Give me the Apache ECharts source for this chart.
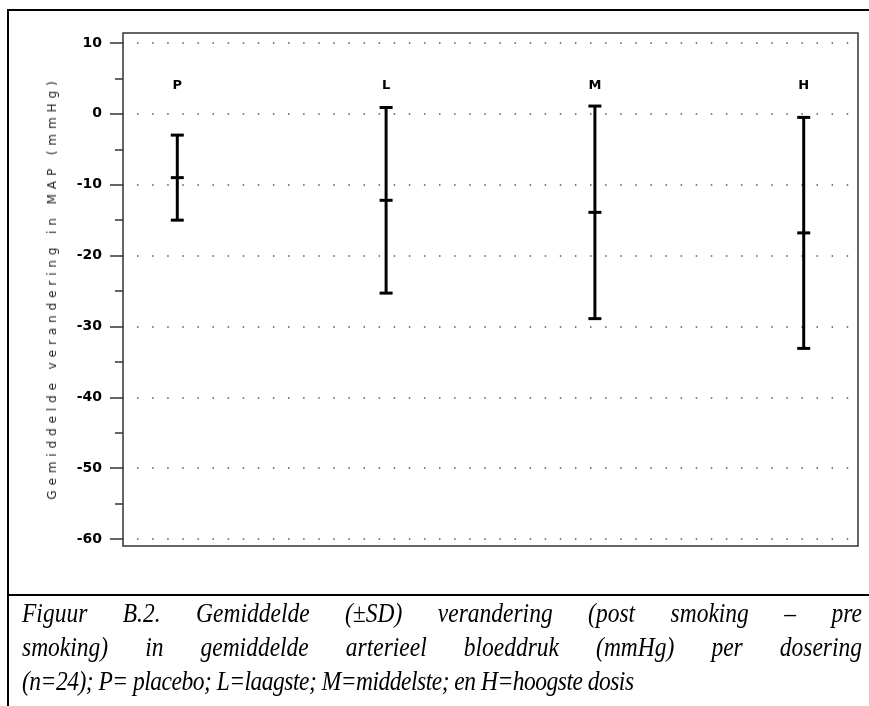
<!DOCTYPE html>
<html>
<head>
<meta charset="utf-8">
<script src="https://cdn.jsdelivr.net/npm/echarts@6/dist/echarts.min.js"></script>
<style>
  html, body { margin: 0; padding: 0; background: #fff; }
  body { width: 869px; height: 706px; position: relative; overflow: hidden; }
  #frame { position: absolute; left: 7px; top: 9px; width: 1000px; height: 1000px; border: 2px solid #000; }
  #sep { position: absolute; left: 7px; top: 594px; width: 900px; height: 2px; background: #000; }
  #chart { position: absolute; left: 0; top: 0; width: 869px; height: 595px; }
  #ytitle {
    position: absolute; left: 52px; top: 288px;
    transform: translate(-50%, -50%) rotate(-90deg);
    white-space: nowrap; font: 12px "DejaVu Sans", sans-serif; letter-spacing: 4.9px; color: #222;
  }
  #caption {
    position: absolute; left: 22px; top: 596px; width: 840px;
    font: italic 23.5px "Liberation Serif", serif; line-height: 29px; color: #000;
    transform: scaleY(1.17); transform-origin: top left;
  }
  #caption div { text-align: justify; text-align-last: justify; white-space: nowrap; }
  #caption div.last { text-align-last: left; letter-spacing: -0.5px; }
</style>
</head>
<body>
<div id="frame"></div>
<div id="chart"></div>
<div id="ytitle">Gemiddelde verandering in MAP (mmHg)</div>
<div id="sep"></div>
<div id="caption">
  <div>Figuur B.2. Gemiddelde (±SD) verandering (post smoking – pre</div>
  <div>smoking) in gemiddelde arterieel bloeddruk (mmHg) per dosering</div>
  <div class="last">(n=24); P= placebo; L=laagste; M=middelste; en H=hoogste dosis</div>
</div>
<script>
// dosering groepen
var categories = ["P", "L", "M", "H"];
// gemiddelde verandering (mmHg)
var means = [-9.0, -12.2, -13.9, -16.8];
// standaarddeviatie
var sds = [6.0, 13.1, 15.0, 16.3];
// y-as ticks
var yTicks = [10, 0, -10, -20, -30, -40, -50, -60];
var labelY = 4; // hoogte van de letters boven de balken

var chart = echarts.init(document.getElementById("chart"));

var seriesData = categories.map(function (c, i) {
  return [i + 1, means[i], sds[i]];
});

chart.setOption({
  animation: false,
  grid: { left: 123, right: 11, top: 43, bottom: 56 },
  xAxis: {
    type: "value",
    min: 0.74,
    max: 4.26,
    show: false,
  },
  yAxis: {
    type: "value",
    min: yTicks[yTicks.length - 1],
    max: yTicks[0],
    interval: 10,
    axisLine: { show: false },
    axisTick: { show: true, length: 13, lineStyle: { color: "#333", width: 1.5 } },
    minorTick: { show: true, splitNumber: 2, length: 8, lineStyle: { color: "#333", width: 1.5 } },
    axisLabel: {
      margin: 21,
      color: "#000",
      fontFamily: "DejaVu Sans",
      fontWeight: "bold",
      fontSize: 14,
    },
    splitLine: {
      show: true,
      lineStyle: { color: "#555", width: 1.5, type: [1.5, 13.6], dashOffset: -14 },
    },
  },
  graphic: [
    {
      type: "rect",
      z: 100,
      silent: true,
      shape: { x: 123, y: 33, width: 735, height: 513 },
      style: { fill: null, stroke: "#333", lineWidth: 1.5 },
    },
  ],
  series: [
    {
      type: "custom",
      data: seriesData,
      renderItem: function (params, api) {
        var x = api.value(0);
        var m = api.value(1);
        var sd = api.value(2);
        var top = api.coord([x, m + sd]);
        var bot = api.coord([x, m - sd]);
        var mid = api.coord([x, m]);
        var lab = api.coord([x, labelY]);
        var w = 6.5;
        var ls = { stroke: "#000", lineWidth: 3 };
        return {
          type: "group",
          children: [
            { type: "line", shape: { x1: top[0], y1: top[1], x2: bot[0], y2: bot[1] }, style: ls },
            { type: "line", shape: { x1: top[0] - w, y1: top[1], x2: top[0] + w, y2: top[1] }, style: ls },
            { type: "line", shape: { x1: bot[0] - w, y1: bot[1], x2: bot[0] + w, y2: bot[1] }, style: ls },
            { type: "line", shape: { x1: mid[0] - w, y1: mid[1], x2: mid[0] + w, y2: mid[1] }, style: ls },
            {
              type: "text",
              style: {
                text: categories[params.dataIndex],
                x: lab[0],
                y: lab[1],
                align: "center",
                verticalAlign: "middle",
                font: "bold 13px 'DejaVu Sans'",
                fill: "#000",
              },
            },
          ],
        };
      },
    },
  ],
});

window.addEventListener("resize", function () {
  chart.resize();
});
</script>
</body>
</html>
